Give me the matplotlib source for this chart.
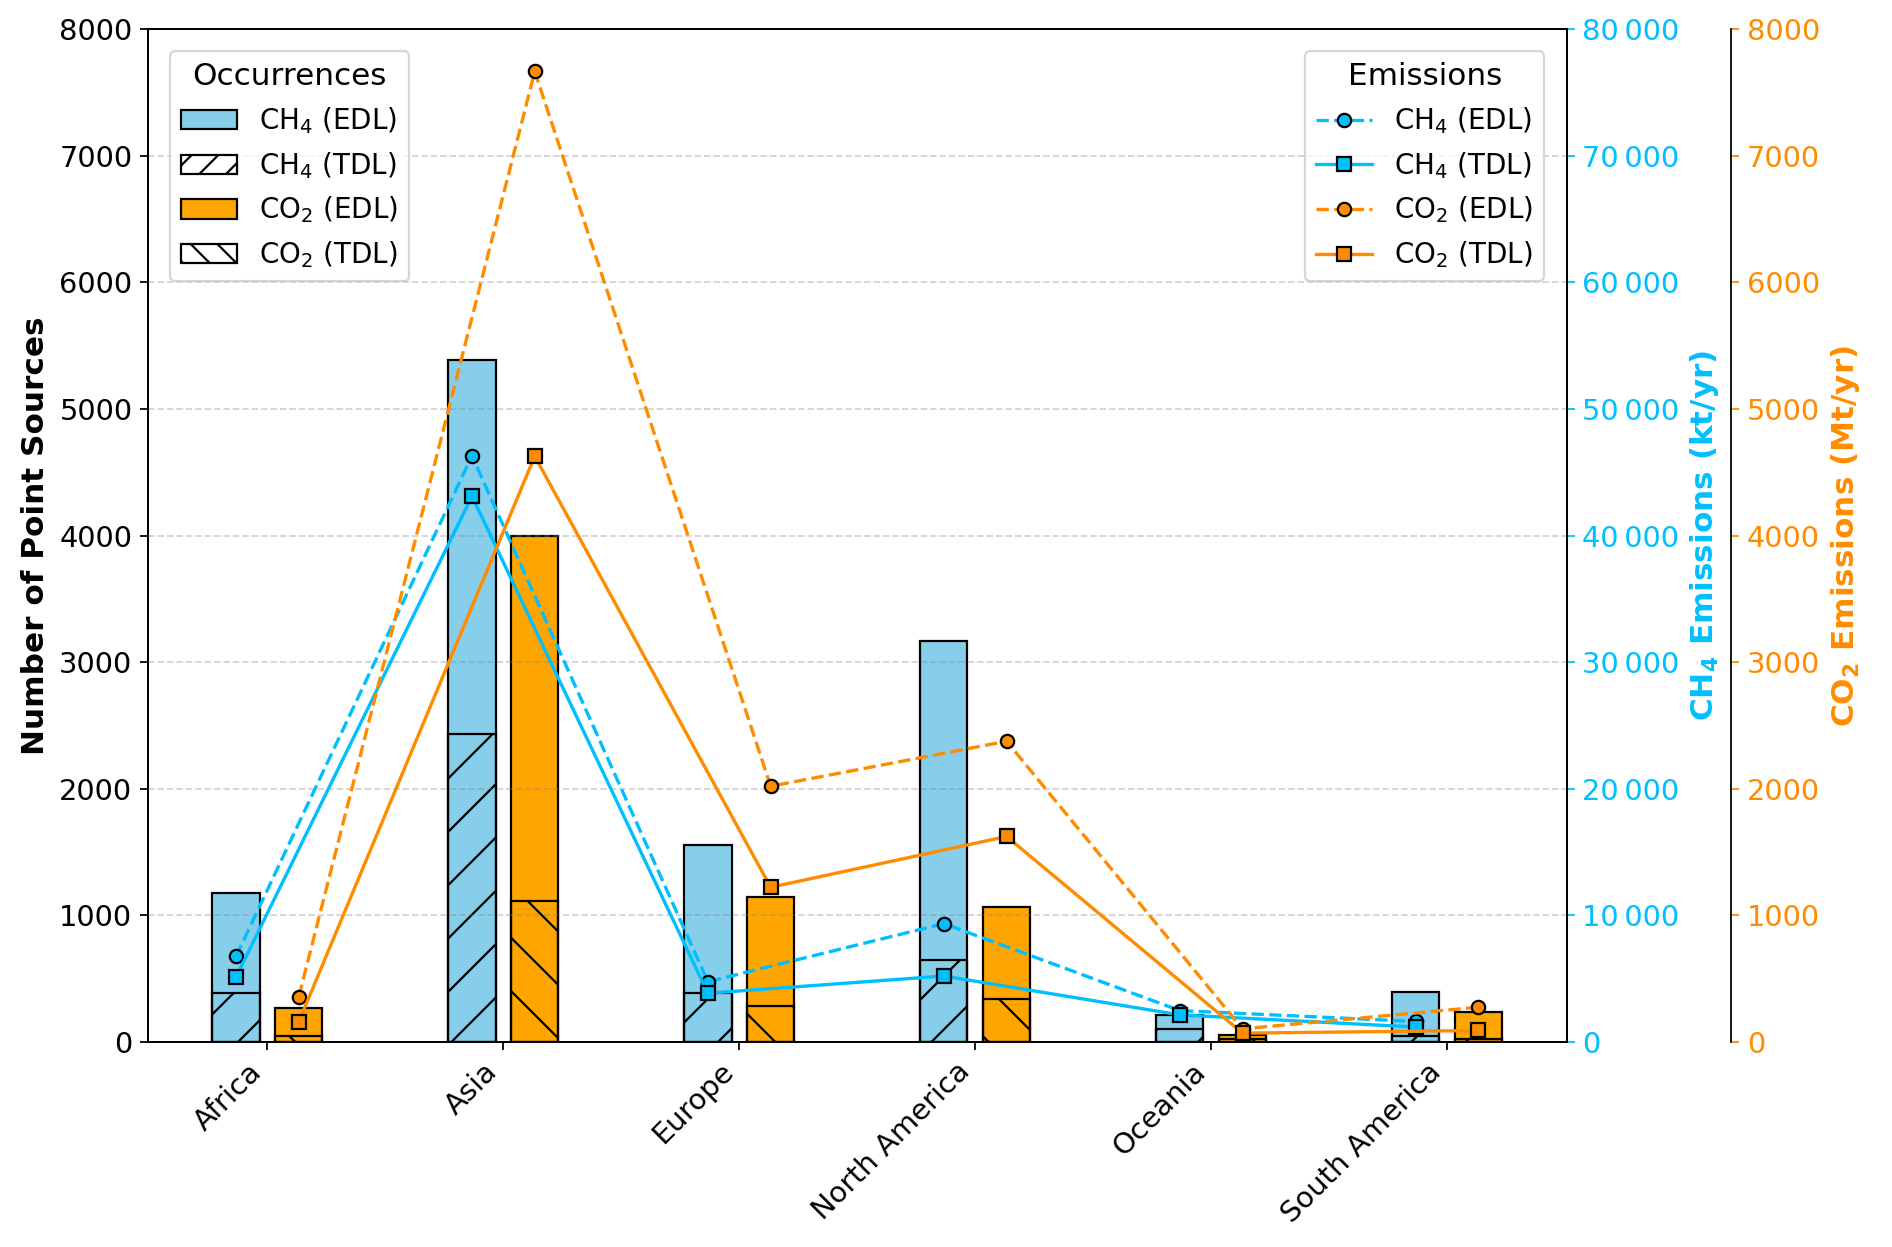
import matplotlib
matplotlib.use('Agg')
import matplotlib.pyplot as plt
import numpy as np
from matplotlib.patches import Patch
from matplotlib.lines import Line2D
from matplotlib.ticker import FuncFormatter

# data
regions = ['Africa', 'Asia', 'Europe', 'North America', 'Oceania', 'South America']

# number of point sources
ch4_edl_count = [1175, 5385, 1555, 3170, 215, 395]
ch4_tdl_count = [385, 2430, 385, 650, 105, 45]
co2_edl_count = [265, 4000, 1145, 1065, 57, 236]
co2_tdl_count = [50, 1115, 285, 340, 25, 25]

# emissions: CH4 in kt/yr, CO2 in Mt/yr
ch4_edl_emis = [6760, 46290, 4760, 9350, 2480, 1620]
ch4_tdl_emis = [5130, 43100, 3850, 5210, 2140, 1180]
co2_edl_emis = [358, 7665, 2020, 2375, 104, 275]
co2_tdl_emis = [160, 4626, 1222, 1623, 70, 91]

ch4_bar = 'skyblue'
co2_bar = 'orange'
ch4_line = 'deepskyblue'
co2_line = 'darkorange'

x = np.arange(len(regions))
w = 0.2
off = 0.133

fig = plt.figure(figsize=(1892 / 160, 1247 / 160), dpi=160)
ax1 = fig.add_subplot(111)
fig.subplots_adjust(left=0.0782, right=0.828, top=0.9767, bottom=0.1644)

# bars (TDL part drawn as hatched overlay on the EDL bar)
ax1.bar(x - off, ch4_edl_count, w, color=ch4_bar, edgecolor='black', linewidth=1)
ax1.bar(x - off, ch4_tdl_count, w, facecolor='none', edgecolor='black', hatch='/', linewidth=1)
ax1.bar(x + off, co2_edl_count, w, color=co2_bar, edgecolor='black', linewidth=1)
ax1.bar(x + off, co2_tdl_count, w, facecolor='none', edgecolor='black', hatch='\\', linewidth=1)

ax1.set_ylim(0, 8000)
ax1.set_ylabel('Number of Point Sources', fontsize=14, fontweight='bold')
ax1.set_xticks(x)
ax1.set_xticklabels(regions, rotation=45, ha='right', fontsize=13)
ax1.tick_params(axis='y', labelsize=13)
ax1.grid(axis='y', linestyle='--', color='gray', alpha=0.35)

# CH4 emissions axis
ax2 = ax1.twinx()
ax2.plot(x - off, ch4_edl_emis, linestyle='--', color=ch4_line, marker='o', markersize=6,
         markerfacecolor=ch4_line, markeredgecolor='black', linewidth=1.5)
ax2.plot(x - off, ch4_tdl_emis, linestyle='-', color=ch4_line, marker='s', markersize=6,
         markerfacecolor=ch4_line, markeredgecolor='black', linewidth=1.5)
ax2.set_ylim(0, 80000)
ax2.yaxis.set_major_formatter(FuncFormatter(lambda v, p: f'{v:,.0f}'.replace(',', '\u2009')))
ax2.tick_params(axis='y', colors=ch4_line, labelsize=13)
ax2.set_ylabel('CH$_\\mathbf{4}$ Emissions (kt/yr)', color=ch4_line, fontsize=14, fontweight='bold')

# CO2 emissions axis
ax3 = ax1.twinx()
ax3.spines['right'].set_position(('axes', 1.116))
ax3.plot(x + off, co2_edl_emis, linestyle='--', color=co2_line, marker='o', markersize=6,
         markerfacecolor=co2_line, markeredgecolor='black', linewidth=1.5)
ax3.plot(x + off, co2_tdl_emis, linestyle='-', color=co2_line, marker='s', markersize=6,
         markerfacecolor=co2_line, markeredgecolor='black', linewidth=1.5)
ax3.set_ylim(0, 8000)
ax3.tick_params(axis='y', colors=co2_line, labelsize=13)
ax3.set_ylabel('CO$_\\mathbf{2}$ Emissions (Mt/yr)', color=co2_line, fontsize=14, fontweight='bold')

# legends
occ_handles = [
    Patch(facecolor=ch4_bar, edgecolor='black', label='CH$_4$ (EDL)'),
    Patch(facecolor='white', edgecolor='black', hatch='//', label='CH$_4$ (TDL)'),
    Patch(facecolor=co2_bar, edgecolor='black', label='CO$_2$ (EDL)'),
    Patch(facecolor='white', edgecolor='black', hatch='\\\\', label='CO$_2$ (TDL)'),
]
leg1 = ax3.legend(handles=occ_handles, title='Occurrences', loc='upper left',
                  fontsize=12.5, title_fontsize=14, borderaxespad=0.8)

emis_handles = [
    Line2D([], [], color=ch4_line, linestyle='--', marker='o', markerfacecolor=ch4_line,
           markeredgecolor='black', label='CH$_4$ (EDL)'),
    Line2D([], [], color=ch4_line, linestyle='-', marker='s', markerfacecolor=ch4_line,
           markeredgecolor='black', label='CH$_4$ (TDL)'),
    Line2D([], [], color=co2_line, linestyle='--', marker='o', markerfacecolor=co2_line,
           markeredgecolor='black', label='CO$_2$ (EDL)'),
    Line2D([], [], color=co2_line, linestyle='-', marker='s', markerfacecolor=co2_line,
           markeredgecolor='black', label='CO$_2$ (TDL)'),
]
ax3.add_artist(leg1)
ax3.legend(handles=emis_handles, title='Emissions', loc='upper right',
           fontsize=12.5, title_fontsize=14, borderaxespad=0.8)

fig.savefig('out.png', dpi=160)
